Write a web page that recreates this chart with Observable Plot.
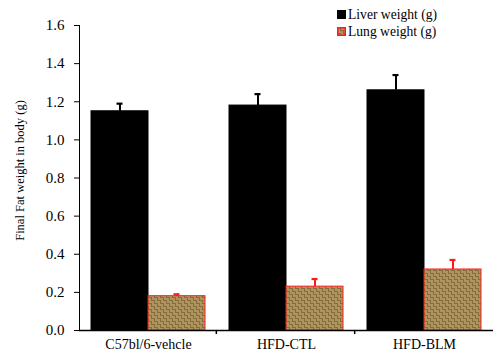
<!DOCTYPE html>
<html>
<head>
<meta charset="utf-8">
<script src="https://cdn.jsdelivr.net/npm/d3@7"></script>
<script src="https://cdn.jsdelivr.net/npm/@observablehq/plot@0.6"></script>
<style>
  body { margin: 0; background: #fff; }
  #chart { position: relative; width: 493px; height: 355px; font-family: "Liberation Serif", "Times New Roman", serif; }
  #legend { position: absolute; left: 337px; top: 6px; font-size: 13.6px; line-height: 17px; color: #000; }
  #legend .row { display: flex; align-items: center; height: 17px; }
  #legend .sw { width: 9px; height: 9px; margin-right: 2px; box-sizing: border-box; }
</style>
</head>
<body>
<div id="chart"><div id="legend"></div></div>
<script>
// Groups, series and measured values (mean and SD, grams)
const groups = ["C57bl/6-vehcle", "HFD-CTL", "HFD-BLM"];
const series = ["Liver weight (g)", "Lung weight (g)"];
const liverMean = [1.15, 1.18, 1.26];
const liverErr = [0.04, 0.06, 0.08];
const lungMean = [0.18, 0.23, 0.32];
const lungErr = [0.01, 0.04, 0.05];
const yTicks = [0, 0.2, 0.4, 0.6, 0.8, 1.0, 1.2, 1.4, 1.6];
const yTitle = "Final Fat weight in body (g)";

const rows = [];
groups.forEach((g, i) => {
  rows.push({group: g, series: series[0], value: liverMean[i], err: liverErr[i]});
  rows.push({group: g, series: series[1], value: lungMean[i], err: lungErr[i]});
});

const fills = {[series[0]]: "#000", [series[1]]: "url(#burlap)"};
const strokes = {[series[0]]: "#000", [series[1]]: "#ff1a1a"};
const serif = "'Liberation Serif', 'Times New Roman', serif";

const plot = Plot.plot({
  width: 493,
  height: 355,
  marginLeft: 78,
  marginRight: 0,
  marginTop: 25,
  marginBottom: 25,
  style: {background: "transparent", color: "#000", fontFamily: serif},
  fx: {domain: groups, padding: 0, axis: "bottom", label: null, tickSize: 0, tickPadding: 9},
  x: {domain: series, paddingInner: 0, paddingOuter: 0.19, axis: null},
  y: {
    domain: [0, 1.6], ticks: yTicks, tickFormat: d3.format(".1f"), tickSize: 5, tickPadding: 10,
    line: true, label: null
  },
  marks: [
    Plot.barY(rows, {fx: "group", x: "series", y: "value",
      fill: d => fills[d.series], stroke: d => strokes[d.series], strokeWidth: 1}),
    Plot.ruleX(rows, {fx: "group", x: "series", y1: "value", y2: d => d.value + d.err,
      stroke: d => strokes[d.series], strokeWidth: 2}),
    Plot.tickY(rows, {fx: "group", x: "series", y: d => d.value + d.err,
      stroke: d => strokes[d.series], strokeWidth: 2.2, insetLeft: 25.5, insetRight: 25.5}),
    Plot.ruleY([0], {strokeWidth: 1.5})
  ]
});

const svg = d3.select(plot);

// Serif type for all axis text
svg.selectAll("g[aria-label='y-axis tick label'] text")
  .style("font-family", serif).style("font-size", "15px").style("font-variant", "normal");
svg.selectAll("g[aria-label='fx-axis tick label'] text")
  .style("font-family", serif).style("font-size", "14px");

// Burlap weave texture for the lung bars
const defs = svg.insert("defs", ":first-child");
const pat = defs.append("pattern").attr("id", "burlap")
  .attr("patternUnits", "userSpaceOnUse").attr("width", 6).attr("height", 6);
pat.append("rect").attr("width", 6).attr("height", 6).attr("fill", "#d4bc82");
const weave = [
  // horizontal threads (top-left, bottom-right), vertical threads (top-right, bottom-left)
  [0, 0.5, 3, 0.5], [0, 2, 3, 2], [3, 3.5, 6, 3.5], [3, 5, 6, 5],
  [3.5, 0, 3.5, 3], [5, 0, 5, 3], [0.5, 3, 0.5, 6], [2, 3, 2, 6]
];
weave.forEach(([x1, y1, x2, y2]) => pat.append("line")
  .attr("x1", x1).attr("y1", y1).attr("x2", x2).attr("y2", y2)
  .attr("stroke", "#6a4d22").attr("stroke-width", 0.9).attr("stroke-opacity", 0.8));

// Small downward ticks on the category axis between groups
const fx = plot.scale("fx");
const y = plot.scale("y");
const fxScale = d3.scaleBand().domain(fx.domain).range(fx.range).padding(0);
const y0 = y.apply(0);
groups.slice(1).forEach(g => {
  const px = fxScale(g);
  svg.append("line").attr("x1", px).attr("x2", px).attr("y1", y0).attr("y2", y0 + 4)
    .attr("stroke", "#000").attr("stroke-width", 1.5);
});

// Y axis title
const [yTop, yBottom] = [y.apply(1.6), y0];
svg.append("text")
  .attr("transform", `translate(21,${(yTop + yBottom) / 2 - 7}) rotate(-90)`)
  .attr("text-anchor", "middle").attr("dominant-baseline", "middle")
  .style("font-family", serif).style("font-size", "12.5px").attr("fill", "#000")
  .text(yTitle);

const chart = document.getElementById("chart");
chart.insertBefore(plot, chart.firstChild);

// Legend
const legend = d3.select("#legend");
const sw = legend.append("div").attr("class", "row");
sw.append("div").attr("class", "sw").style("background", "#000");
sw.append("span").text(series[0]);
const sw2 = legend.append("div").attr("class", "row");
sw2.append("svg").attr("class", "sw").attr("width", 9).attr("height", 9).style("margin-right", "2px")
  .append("rect").attr("x", 0.75).attr("y", 0.75).attr("width", 7.5).attr("height", 7.5)
  .attr("fill", "url(#burlap)").attr("stroke", "#ff1a1a").attr("stroke-width", 1.5);
sw2.append("span").text(series[1]);
</script>
</body>
</html>
